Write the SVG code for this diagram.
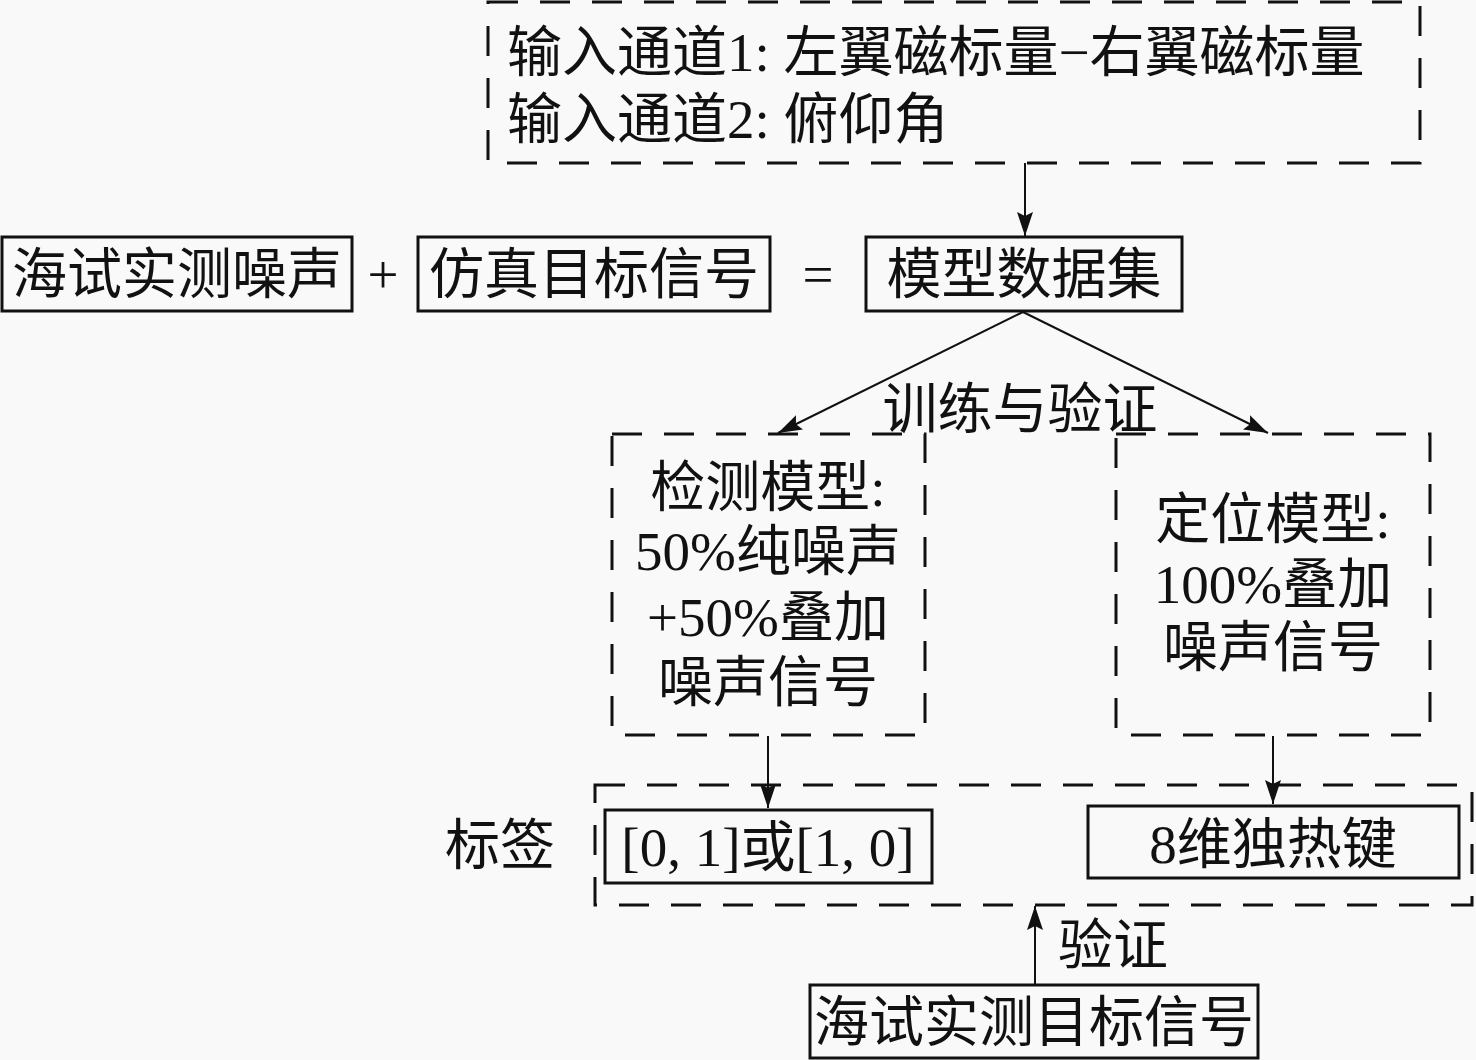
<svg xmlns="http://www.w3.org/2000/svg" width="1476" height="1060" viewBox="0 0 1476 1060">
<style>
.bg{fill:#f9f9f9}
.box{fill:none;stroke:#111;stroke-width:3}
.dash{fill:none;stroke:#111;stroke-width:3;stroke-dasharray:30 22}
.ln{stroke:#111;stroke-width:2;fill:none}
text{font-family:"Liberation Serif","Noto Sans CJK SC",serif;font-size:55px;fill:#111}
.c{text-anchor:middle}
</style>
<defs>
<marker id="ah" viewBox="0 0 24 16" refX="24" refY="8" markerWidth="24" markerHeight="16" markerUnits="userSpaceOnUse" orient="auto">
<path d="M0,0 L24,8 L0,16 L4,8 Z" fill="#111"/>
</marker>
</defs>
<rect class="bg" x="0" y="0" width="1476" height="1060"/>
<g id="inputs">
<rect class="dash" x="488" y="2" width="932" height="161"/>
<text x="507" y="71">输入通道1: 左翼磁标量−右翼磁标量</text>
<text x="507" y="138">输入通道2: 俯仰角</text>
</g>
<g id="noise">
<rect class="box" x="2" y="237" width="350" height="74"/>
<text class="c" x="177" y="293">海试实测噪声</text>
</g>
<g id="plus"><text class="c" x="383" y="293">+</text></g>
<g id="sim">
<rect class="box" x="418" y="237" width="352" height="74"/>
<text class="c" x="594" y="293">仿真目标信号</text>
</g>
<g id="eq"><text class="c" x="818" y="293">=</text></g>
<g id="dataset">
<rect class="box" x="866" y="237" width="316" height="74"/>
<text class="c" x="1024" y="293">模型数据集</text>
</g>
<g id="detect">
<rect class="dash" x="612" y="434" width="313" height="301"/>
<text class="c" x="768" y="506">检测模型:</text>
<text class="c" x="768" y="570">50%纯噪声</text>
<text class="c" x="768" y="636">+50%叠加</text>
<text class="c" x="768" y="701">噪声信号</text>
</g>
<g id="locate">
<rect class="dash" x="1116" y="434" width="314" height="301"/>
<text class="c" x="1273" y="538">定位模型:</text>
<text class="c" x="1273" y="603">100%叠加</text>
<text class="c" x="1273" y="666">噪声信号</text>
</g>
<g id="labels">
<rect class="dash" x="595" y="785" width="877" height="120"/>
<text x="445" y="864">标签</text>
</g>
<g id="label1">
<rect class="box" x="605" y="810" width="327" height="73"/>
<text class="c" x="768" y="866">[0, 1]或[1, 0]</text>
</g>
<g id="label2">
<rect class="box" x="1088" y="806" width="371" height="72"/>
<text class="c" x="1273" y="863">8维独热键</text>
</g>
<g id="target">
<rect class="box" x="810" y="985" width="448" height="73"/>
<text class="c" x="1034" y="1041">海试实测目标信号</text>
</g>
<g id="connectors">
<line class="ln" x1="1025" y1="163" x2="1025" y2="236" marker-end="url(#ah)"/>
<line class="ln" x1="1023" y1="312" x2="778" y2="433" marker-end="url(#ah)"/>
<line class="ln" x1="1023" y1="312" x2="1268" y2="433" marker-end="url(#ah)"/>
<line class="ln" x1="768" y1="736" x2="768" y2="808" marker-end="url(#ah)"/>
<line class="ln" x1="1273" y1="736" x2="1273" y2="804" marker-end="url(#ah)"/>
<line class="ln" x1="1035" y1="984" x2="1035" y2="906" marker-end="url(#ah)"/>
<text x="1058" y="964">验证</text>
<text class="c" x="1020" y="428">训练与验证</text>
</g>
</svg>
